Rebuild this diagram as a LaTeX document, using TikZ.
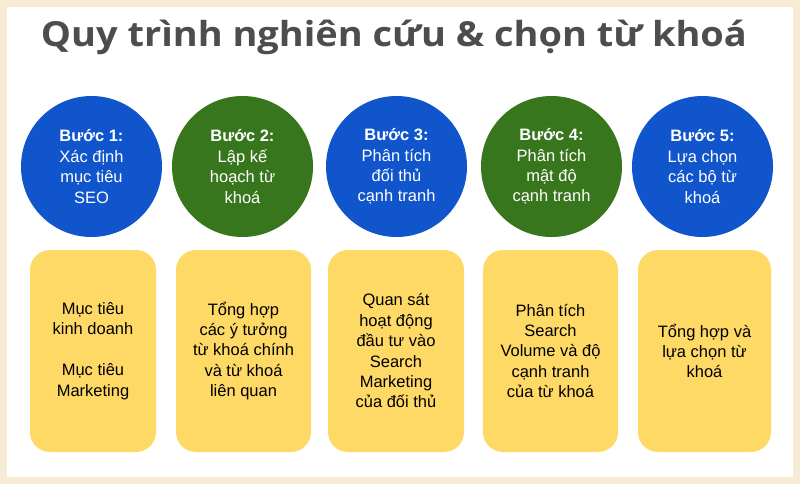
\documentclass[tikz,border=0pt]{standalone}
\usepackage{fontspec}
\setmainfont{Liberation Sans}
\newfontfamily\titlefont{Open Sans}
\definecolor{cream}{HTML}{F8EBD6}
\definecolor{titlegray}{HTML}{4D4D4D}
\definecolor{stepblue}{HTML}{1155CC}
\definecolor{stepgreen}{HTML}{38761D}
\definecolor{boxyellow}{HTML}{FFD966}
\tikzset{
  stepcircle/.style={circle, minimum size=141pt, inner sep=0pt, text=white, align=center,
    font=\fontsize{16.5pt}{20.4pt}\selectfont},
  infobox/.style={rectangle, rounded corners=20pt, fill=boxyellow, minimum height=202pt,
    inner sep=0pt, text=black, align=center, font=\fontsize{16.5pt}{20.4pt}\selectfont},
}
\begin{document}
\begin{tikzpicture}[x=1pt,y=-1pt]
\useasboundingbox (0,0) rectangle (800,484);
\fill[cream] (0,0) rectangle (800,484);
\fill[white] (7,7) rectangle (793,477);
\node[text=titlegray, inner sep=0pt, anchor=base] (title) at (394,47)
  {\resizebox{706pt}{\height}{\titlefont\bfseries\fontsize{34.5pt}{40pt}\selectfont Quy trình nghiên cứu \& chọn từ khoá}};
\node[stepcircle, fill=stepblue] (c1) at (91.5,166.5) {\textbf{Bước 1:}\\Xác định\\mục tiêu\\SEO};
\node[stepcircle, fill=stepgreen] (c2) at (242.5,166.5) {\textbf{Bước 2:}\\Lập kế\\hoạch từ\\khoá};
\node[stepcircle, fill=stepblue] (c3) at (396.5,166.5) {\textbf{Bước 3:}\\Phân tích\\đối thủ\\cạnh tranh};
\node[stepcircle, fill=stepgreen] (c4) at (551.5,166.5) {\textbf{Bước 4:}\\Phân tích\\mật độ\\cạnh tranh};
\node[stepcircle, fill=stepblue] (c5) at (702.5,166.5) {\textbf{Bước 5:}\\Lựa chọn\\các bộ từ\\khoá};
\node[infobox, minimum width=126pt] (b1) at (93,351) {Mục tiêu\\kinh doanh\\[20.4pt]Mục tiêu\\Marketing};
\node[infobox, minimum width=135pt] (b2) at (243.5,351) {Tổng hợp\\các ý tưởng\\từ khoá chính\\và từ khoá\\liên quan};
\node[infobox, minimum width=136pt] (b3) at (396,351) {Quan sát\\hoạt động\\đầu tư vào\\Search\\Marketing\\của đối thủ};
\node[infobox, minimum width=135pt] (b4) at (550.5,351) {Phân tích\\Search\\Volume và độ\\cạnh tranh\\của từ khoá};
\node[infobox, minimum width=133pt] (b5) at (704.5,351) {Tổng hợp và\\lựa chọn từ\\khoá};
\end{tikzpicture}
\end{document}
